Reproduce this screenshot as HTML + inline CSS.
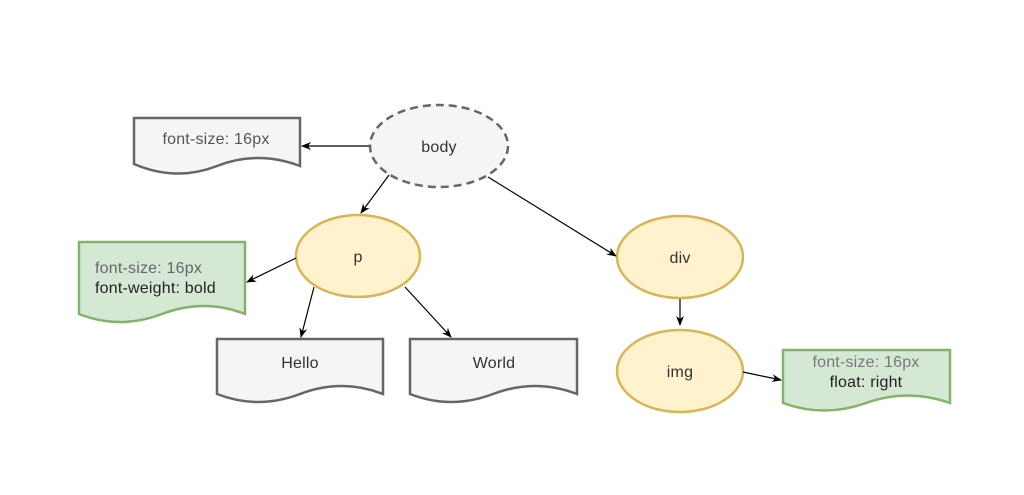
<!DOCTYPE html>
<html><head><meta charset="utf-8"><style>
html,body{margin:0;padding:0;background:#fff;}
svg{display:block;}
text{font-family:"Liberation Sans",Arial,sans-serif;font-size:16px;letter-spacing:0.2px;}
</style></head><body>
<svg width="1024" height="495" viewBox="0 0 1024 495" xmlns="http://www.w3.org/2000/svg">
<defs>
<marker id="a" markerWidth="10" markerHeight="10" refX="9" refY="5" orient="auto" markerUnits="userSpaceOnUse">
<path d="M0,1 L10,5 L0,9 L3,5 Z" fill="#000"/>
</marker>
</defs>
<rect width="1024" height="495" fill="#fff"/>
<path d="M134,118 H300 V166 Q258,150 217,166 T134,164 Z" fill="#f5f5f5" stroke="#666" stroke-width="2.5"/>
<path d="M79,242 H245 V314 Q204,298 162,314 T79,314 Z" fill="#d5e8d4" stroke="#82b366" stroke-width="2.5"/>
<path d="M217,339 H383 V394 Q342,378 300,394 T217,394 Z" fill="#f5f5f5" stroke="#666" stroke-width="2.5"/>
<path d="M410,339 H577 V394 Q535,378 493,394 T410,394 Z" fill="#f5f5f5" stroke="#666" stroke-width="2.5"/>
<path d="M783,350 H950 V403 Q908,388 866,403 T783,403 Z" fill="#d5e8d4" stroke="#82b366" stroke-width="2.5"/>
<ellipse cx="439" cy="146" rx="69" ry="41" fill="#f5f5f5" stroke="#666" stroke-width="2.5" stroke-dasharray="8,5"/>
<ellipse cx="358" cy="256" rx="62" ry="41" fill="#fff2cc" stroke="#d6b656" stroke-width="2.5"/>
<ellipse cx="680" cy="257" rx="63" ry="41" fill="#fff2cc" stroke="#d6b656" stroke-width="2.5"/>
<ellipse cx="680" cy="371" rx="63" ry="41" fill="#fff2cc" stroke="#d6b656" stroke-width="2.5"/>
<g stroke="#000" stroke-width="1.2" fill="none" marker-end="url(#a)">
<line x1="369" y1="146" x2="302" y2="146"/>
<line x1="389" y1="175" x2="361" y2="213"/>
<line x1="488" y1="177" x2="616" y2="256"/>
<line x1="296" y1="258" x2="247" y2="282"/>
<line x1="314" y1="287" x2="301" y2="337"/>
<line x1="405" y1="287" x2="451" y2="337"/>
<line x1="680" y1="299" x2="680" y2="325"/>
<line x1="743" y1="372" x2="781" y2="380"/>
</g>
<g text-anchor="middle" fill="#333">
<text x="439" y="152">body</text>
<text x="358" y="262">p</text>
<text x="680" y="263">div</text>
<text x="680" y="377">img</text>
<text x="216" y="144" fill="#555">font-size: 16px</text>
<text x="300" y="368">Hello</text>
<text x="494" y="368">World</text>
<text x="866" y="367" fill="#777">font-size: 16px</text>
<text x="866" y="387" fill="#222">float: right</text>
</g>
<text x="95" y="273" fill="#666">font-size: 16px</text>
<text x="95" y="293" fill="#222">font-weight: bold</text>
</svg>
</body></html>
